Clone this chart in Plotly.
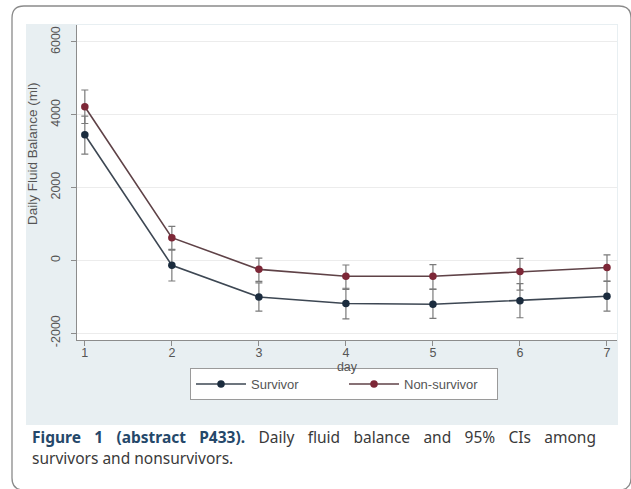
import plotly.graph_objects as go

days = [1, 2, 3, 4, 5, 6, 7]
surv_mean = [3450, -140, -1010, -1190, -1210, -1110, -990]
surv_lo = [2920, -570, -1400, -1610, -1600, -1580, -1400]
surv_hi = [3960, 280, -620, -770, -800, -640, -580]
ns_mean = [4220, 620, -250, -440, -440, -310, -200]
ns_lo = [3760, 300, -580, -800, -790, -820, -570]
ns_hi = [4680, 930, 60, -130, -120, 50, 150]
y_ticks = [-2000, 0, 2000, 4000, 6000]
series_names = ["Survivor", "Non-survivor"]

W, H = 631, 489
L, R, T, B = 77, 14, 25, 149
PW, PH = W - L - R, H - T - B


def px(x):
    return (x - L) / PW


def py(y):
    return (H - B - y) / PH


fig = go.Figure()

for name, mean, lo, hi, mcol, lcol in [
    (series_names[0], surv_mean, surv_lo, surv_hi, "#1b2c3e", "#3d4753"),
    (series_names[1], ns_mean, ns_lo, ns_hi, "#7d2737", "#5f4247"),
]:
    fig.add_trace(go.Scatter(
        x=days, y=mean, name=name, mode="lines+markers",
        line=dict(color=lcol, width=1.6),
        marker=dict(color=mcol, size=7.5),
        error_y=dict(type="data", symmetric=False,
                     array=[h - m for h, m in zip(hi, mean)],
                     arrayminus=[m - l for m, l in zip(mean, lo)],
                     color="#7a7a7a", thickness=1.2, width=3.5),
    ))

shapes = [
    dict(type="rect", xref="paper", yref="paper", layer="below",
         x0=px(26), x1=px(618), y0=py(425), y1=py(24),
         fillcolor="#e8eff2", line=dict(width=0)),
    dict(type="rect", xref="paper", yref="paper", layer="below",
         x0=px(77), x1=px(617), y0=py(340), y1=py(25),
         fillcolor="#ffffff", line=dict(width=0)),
]
frame = (f"M {px(12)},{py(18)} Q {px(12)},{py(6)} {px(24)},{py(6)} "
         f"L {px(619)},{py(6)} Q {px(631)},{py(6)} {px(631)},{py(18)} "
         f"L {px(631)},{py(478)} Q {px(631)},{py(490)} {px(619)},{py(490)} "
         f"L {px(24)},{py(490)} Q {px(12)},{py(490)} {px(12)},{py(478)} Z")
shapes.append(dict(type="path", xref="paper", yref="paper", path=frame,
                   line=dict(color="#8a8a8a", width=1.3), layer="above"))

gap = " \u2002\u200a"
line1 = ("<b><span style='color:#25486a'>" + gap.join(["Figure", "1", "(abstract", "P433)."]) +
         "</span></b>" + gap + gap.join(["Daily", "fluid", "balance", "and", "95%", "CIs", "among"]))
annotations = [
    dict(xref="paper", yref="paper", x=px(32), y=py(154), xanchor="center", yanchor="middle",
         showarrow=False, textangle=-90, text="Daily Fluid Balance (ml)",
         font=dict(family="Liberation Sans", size=13.5, color="#555555")),
    dict(xref="paper", yref="paper", x=px(30), y=py(437), xanchor="left", yanchor="middle",
         showarrow=False, align="left", text=line1,
         font=dict(family="Noto Sans", size=15.5, color="#3a3a3a")),
    dict(xref="paper", yref="paper", x=px(30), y=py(458), xanchor="left", yanchor="middle",
         showarrow=False, align="left",
         text="survivors and nonsurvivors.",
         font=dict(family="Noto Sans", size=15.5, color="#3a3a3a")),
]

fig.update_layout(
    width=W, height=H,
    margin=dict(l=L, r=R, t=T, b=B, autoexpand=False),
    paper_bgcolor="#ffffff",
    plot_bgcolor="rgba(0,0,0,0)",
    font=dict(family="Liberation Sans", size=12, color="#555555"),
    showlegend=True,
    legend=dict(orientation="h", x=px(344), y=py(384), xanchor="center", yanchor="middle",
                bgcolor="#ffffff", bordercolor="#9a9a9a", borderwidth=1,
                font=dict(size=13, color="#555555"), entrywidth=88,
                itemwidth=50),
    xaxis=dict(range=[0.91, 7.115], tickvals=days, ticktext=[str(d) for d in days],
               showgrid=False, zeroline=False, showline=True, linecolor="#8c8c8c",
               linewidth=1.3, ticks="outside", ticklen=5, tickcolor="#8c8c8c",
               tickfont=dict(size=12.5), ticklabelstandoff=-4,
               title=dict(text="day", standoff=0, font=dict(size=12.5, color="#555555"))),
    yaxis=dict(range=[-2192, 6467], tickvals=y_ticks, ticktext=[str(v) for v in y_ticks],
               tickangle=-90, showgrid=True, gridcolor="#ececec", gridwidth=1,
               zeroline=False, showline=True, linecolor="#8c8c8c", linewidth=1.3,
               ticks="outside", ticklen=5, tickcolor="#8c8c8c",
               tickfont=dict(size=12.5), ticklabelstandoff=6),
    shapes=shapes,
    annotations=annotations,
)

fig.write_html("out.html", config={"displayModeBar": False},
               post_script="document.body.style.margin='0';document.body.style.overflow='hidden';")
